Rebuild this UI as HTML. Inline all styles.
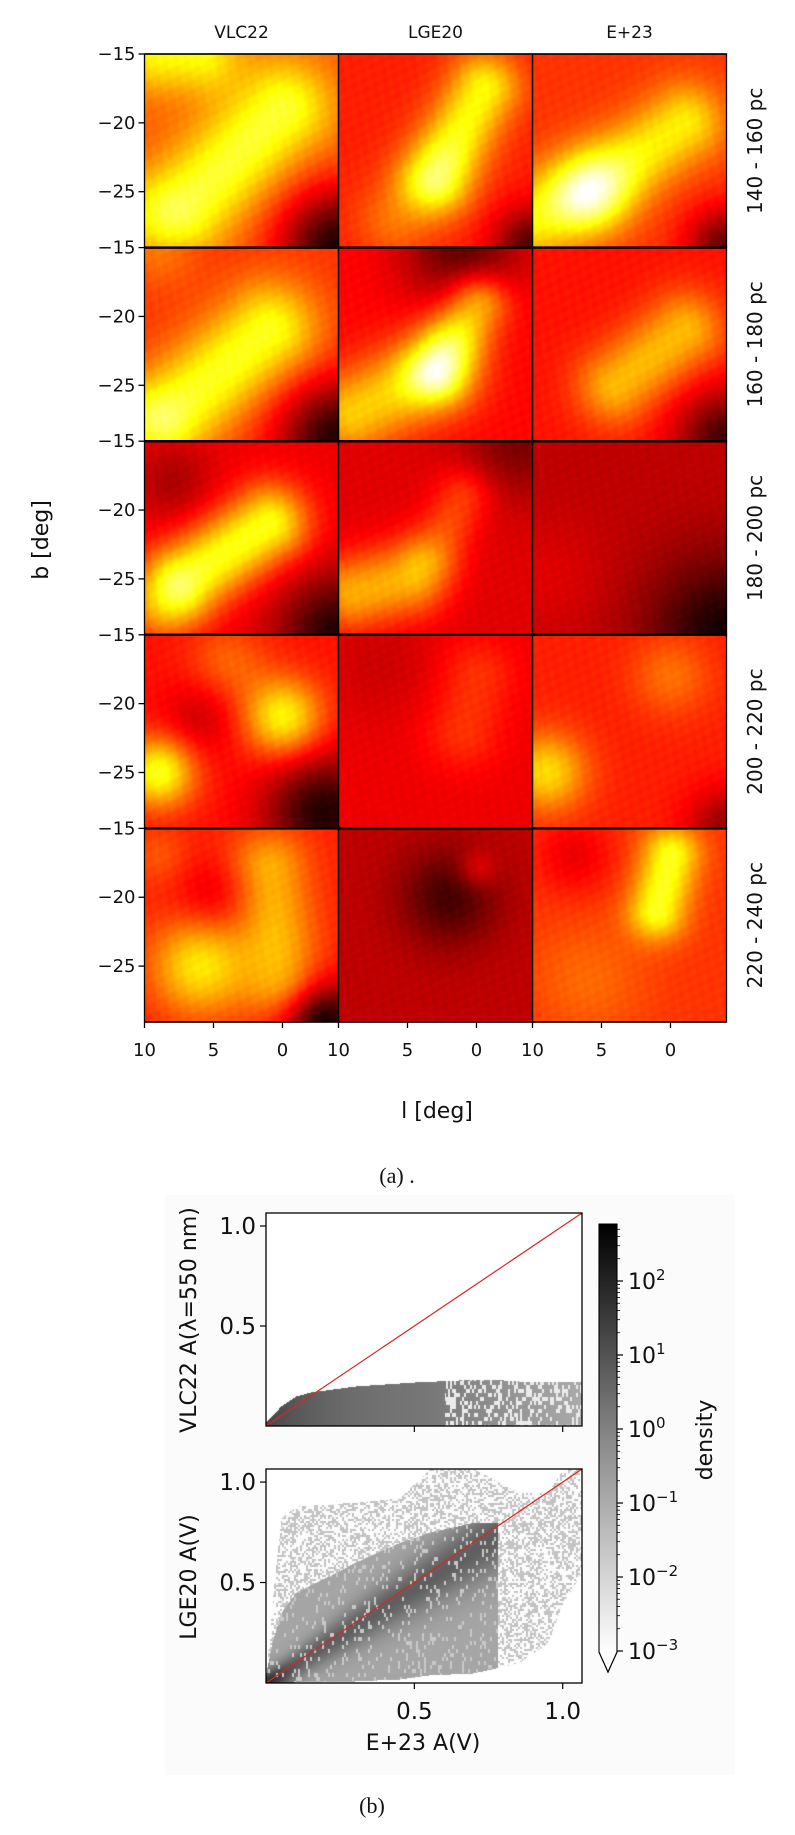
<!DOCTYPE html>
<html><head><meta charset="utf-8">
<style>
body{margin:0;background:#fff;width:795px;height:1835px;position:relative;overflow:hidden;font-family:"DejaVu Sans","Liberation Sans",sans-serif;}
.abs{position:absolute;}
canvas{position:absolute;display:block;}
</style></head><body>
<div class="abs" style="left:165px;top:1195px;width:570px;height:580px;background:#fbfbfb"></div>
<div id="root"></div>
<svg id="ov" class="abs" style="left:0;top:0" width="795" height="1835"></svg>
<script>
// ---------- Panel (a) data ----------
const columns=["VLC22","LGE20","E+23"];
const rowLabels=["140 - 160 pc","160 - 180 pc","180 - 200 pc","200 - 220 pc","220 - 240 pc"];
const yTicks=[-15,-20,-25];
const xTicks=[10,5,0];
const bases=[[0.5,0.42,0.45],[0.45,0.38,0.4],[0.35,0.33,0.28],[0.4,0.35,0.42],[0.42,0.28,0.45]];
// blobs: [l1,b1,l2,b2,sigma,amp]
const blobs=[
 [[[0,-19,7,-26,2.5,0.3],[9,-15,6,-15,2,0.25],[-4,-29,-4,-29,3,-0.45],[10,-27,10,-27,2,0.1]],
  [[-0.5,-17.5,3,-24,1.8,0.33],[3,-24,6,-27,2,0.12],[-4,-29,-4,-29,2,-0.3]],
  [[-1,-20,6,-25,2,0.28],[6,-25,10,-27,2.2,0.28],[-4,-29,-4,-29,2,-0.3]]],
 [[[1,-21,8,-27,2.5,0.33],[9,-15,9,-15,2,0.1],[-4,-29,-4,-29,3,-0.4],[10,-28,10,-28,2,0.12]],
  [[0,-19,3,-24,1.6,0.32],[3,-24,9,-27,2.2,0.3],[1,-15,1,-15,3,-0.25]],
  [[-1,-21,4,-25,2,0.25],[-4,-29,-4,-29,2.5,-0.3]]],
 [[[1,-21,7,-25,2,0.42],[9,-27,9,-27,2,0.2],[-4,-29,-4,-29,3,-0.3],[8,-18,8,-18,2,-0.1]],
  [[1,-19,3,-23,1.5,0.15],[5,-25,9,-26,2,0.3],[-3,-15,-3,-15,3,-0.15]],
  [[-4,-29,-4,-29,4,-0.25],[9,-25,9,-25,3,0.05]]],
 [[[0,-21,0,-21,2,0.35],[9,-25,9,-25,1.8,0.38],[4,-17,4,-17,2,0.12],[-3,-28,-3,-28,3,-0.35],[6,-21,6,-21,2,-0.1]],
  [[0,-18,1,-22,2,0.1],[7,-17,7,-17,3,-0.05]],
  [[9,-25,9,-25,2,0.28],[0,-18,0,-18,2,0.12],[-4,-29,-4,-29,2,-0.2]]],
 [[[1,-18,0,-26,2,0.22],[9,-17,9,-17,1.5,0.08],[6,-25,6,-25,2.5,0.3],[-3,-29,-3,-29,2,-0.4],[5,-20,5,-20,2,-0.1]],
  [[2,-20,2,-20,2.5,-0.18],[0,-18,0,-18,1,0.12]],
  [[0,-17,1,-21,1.5,0.33],[6,-26,6,-26,3,0.08],[7,-17,7,-17,2,-0.1]]]
];
const X0=144.5,Y0=54,PW=194,PH=193.6;
const L0=10,L1=-4.06,B0=-15,B1=-29.06;
function lx(l,c){return X0+c*PW+(L0-l)/(L0-L1)*PW;}
function by(b,r){return Y0+r*PH+(B0-b)/(B0-B1)*PH;}
function hot(t){t=Math.max(0,Math.min(1,t));return [Math.min(1,t/0.375)*255,Math.max(0,Math.min(1,(t-0.375)/0.375))*255,Math.max(0,Math.min(1,(t-0.75)/0.25))*255];}
function segd(px,py,s){const dx=s[2]-s[0],dy=s[3]-s[1];const L=dx*dx+dy*dy;let u=L?((px-s[0])*dx+(py-s[1])*dy)/L:0;u=Math.max(0,Math.min(1,u));const qx=s[0]+u*dx-px,qy=s[1]+u*dy-py;return qx*qx+qy*qy;}
const root=document.getElementById('root');
for(let r=0;r<5;r++)for(let c=0;c<3;c++){
 const cv=document.createElement('canvas');
 
 
 const w=97,h=97;cv.width=w;cv.height=h;
 cv.style.left=(X0+c*PW)+'px';cv.style.top=(Y0+r*PH)+'px';cv.style.width=PW+'px';cv.style.height=PH+'px';
 const ctx=cv.getContext('2d');const im=ctx.createImageData(w,h);
 for(let j=0;j<h;j++)for(let i=0;i<w;i++){
  const l=L0-(i+0.5)/w*(L0-L1),b=B0-(j+0.5)/h*(B0-B1);
  let v=bases[r][c];
  for(const s of blobs[r][c]){v+=s[5]*Math.exp(-segd(l,b,s)/(2*s[4]*s[4]));}
  v+=0.012*Math.sin(i*0.9+j*0.5+r)*Math.cos(j*0.7-i*0.3+c);
  const col=hot(v);const k=(j*w+i)*4;im.data[k]=col[0];im.data[k+1]=col[1];im.data[k+2]=col[2];im.data[k+3]=255;}
 ctx.putImageData(im,0,0);root.appendChild(cv);
}
// ---------- Panel (b) data ----------
const scatTicks=[0.5,1.0];
const topEnvX=[0,0.05,0.1,0.15,0.2,0.3,0.5,0.65,0.8,0.9,1.065];
const topEnvY=[0.02,0.1,0.15,0.17,0.18,0.2,0.22,0.23,0.23,0.22,0.22];
const botEnvX=[0,0.02,0.05,0.1,0.3,0.45,0.55,0.7,0.85,0.95,1.0,1.065];
const botUpY=[0.05,0.4,0.82,0.88,0.9,0.92,1.065,1.065,0.95,0.95,1.065,1.065];
const botLoY=[0,0,0,0.005,0.01,0.02,0.04,0.05,0.1,0.2,0.4,0.55];
const coreUpY=[0.05,0.2,0.35,0.45,0.6,0.7,0.75,0.8,0.8,0.8,0.8,0.8];
const cbTicks=[-3,-2,-1,0,1,2];
const SX0=266,SX1=582,DM=1.065;
function sx(v){return SX0+v/DM*(SX1-SX0);}
function interp(xs,ys,x){for(let i=1;i<xs.length;i++){if(x<=xs[i]){const u=(x-xs[i-1])/(xs[i]-xs[i-1]);return ys[i-1]+u*(ys[i]-ys[i-1]);}}return ys[ys.length-1];}
function hash(i,j){let n=i*374761393+j*668265263;n=(n^(n>>>13))*1274126177;return ((n^(n>>>16))>>>0)/4294967296;}
const scat=[{top:1213,bot:1426,name:'scatter-vlc22-vs-e23'},{top:1469,bot:1683,name:'scatter-lge20-vs-e23'}];
scat.forEach((p,pi)=>{
 const cv=document.createElement('canvas');
 
 
 const w=SX1-SX0,h=p.bot-p.top;cv.width=w;cv.height=h;
 cv.style.left=SX0+'px';cv.style.top=p.top+'px';
 const ctx=cv.getContext('2d');const im=ctx.createImageData(w,h);
 for(let j=0;j<h;j++)for(let i=0;i<w;i++){
  const x=i/w*DM,y=(h-j)/h*DM;let g=255;
  if(pi===0){const up=interp(topEnvX,topEnvY,x);if(y<=up&&y<=x*2.2+0.02){const d=Math.exp(-x*4);g=125-55*d+Math.max(0,x-0.55)*90;if(x>0.6&&hash(i>>1,j>>2)<0.35)g=235;}}
  else{const up=interp(botEnvX,botUpY,x),lo=interp(botEnvX,botLoY,x),cu=interp(botEnvX,coreUpY,x);
   if(y<=up&&y>=lo){
    const s=0.04+0.12*x;const dd=(y-x*0.95);
    let v=0.5*Math.exp(-dd*dd/(2*s*s))+0.35*Math.exp(-(x*x+y*y)/0.008);
    if(y<=cu&&x<0.78){g=165-140*Math.min(1,v);if(hash(i>>1,j>>2)<0.12)g=200;}
    else{g=hash(i>>1,j>>1)<0.45?195:252;}
   }}
  const k=(j*w+i)*4;im.data[k]=g;im.data[k+1]=g;im.data[k+2]=g;im.data[k+3]=255;}
 ctx.putImageData(im,0,0);root.appendChild(cv);
});
// colorbar
(function(){const cv=document.createElement('canvas');


cv.width=18;cv.height=428;cv.style.left='599px';cv.style.top='1224px';
const ctx=cv.getContext('2d');const g=ctx.createLinearGradient(0,0,0,428);g.addColorStop(0,'#000');g.addColorStop(0.5,'#888');g.addColorStop(1,'#fff');ctx.fillStyle=g;ctx.fillRect(0,0,18,428);root.appendChild(cv);})();
// ---------- SVG overlay ----------
const ov=document.getElementById('ov');const NS='http://www.w3.org/2000/svg';
function el(tag,at,txt){const e=document.createElementNS(NS,tag);for(const k in at)e.setAttribute(k,at[k]);if(txt!==undefined)e.textContent=txt;ov.appendChild(e);return e;}
for(let c=0;c<3;c++){const e=el('text',{x:X0+c*PW+PW/2,y:38,'text-anchor':'middle','font-size':17,fill:'#111'},columns[c]);
 
 }
for(let r=0;r<5;r++){
 const cy=Y0+r*PH+PH/2;
 const e=el('text',{x:0,y:0,transform:'translate(762,'+cy+') rotate(-90)','text-anchor':'middle','font-size':20,fill:'#111'},rowLabels[r]);
 
 
 yTicks.forEach(t=>{const y=by(t,r);el('line',{x1:X0-6,x2:X0,y1:y,y2:y,stroke:'#000','stroke-width':1.3});
  const tt=el('text',{x:X0-9,y:y+6,'text-anchor':'end','font-size':18,fill:'#111'},'\u2212'+Math.abs(t));
  
  });
}
for(let c=0;c<3;c++)xTicks.forEach(t=>{const x=lx(t,c);el('line',{x1:x,x2:x,y1:1022,y2:1028,stroke:'#000','stroke-width':1.3});
 const tt=el('text',{x:x,y:1056,'text-anchor':'middle','font-size':18,fill:'#111'},String(t));
 
 });
for(let r=0;r<5;r++)for(let c=0;c<3;c++)el('rect',{x:X0+c*PW,y:Y0+r*PH,width:PW,height:PH,fill:'none',stroke:'#000','stroke-width':1.3});
for(let r=0;r<=5;r++)el('line',{x1:X0,x2:X0+3*PW,y1:Y0+r*PH,y2:Y0+r*PH,stroke:'#000','stroke-width':r===0||r===5?1.5:2.5});
let e1=el('text',{x:0,y:0,transform:'translate(48,540) rotate(-90)','text-anchor':'middle','font-size':22,fill:'#111'},'b [deg]');


e1=el('text',{x:437,y:1118,'text-anchor':'middle','font-size':22,fill:'#111'},'l [deg]');


e1=el('text',{x:397,y:1183,'text-anchor':'middle','font-size':22,fill:'#111','font-family':'Liberation Serif, serif'},'(a) .');


e1=el('text',{x:372,y:1813,'text-anchor':'middle','font-size':22,fill:'#111','font-family':'Liberation Serif, serif'},'(b)');


function syy(v,p){return p.bot-v/DM*(p.bot-p.top);}
scat.forEach((p,pi)=>{
 el('line',{x1:sx(0),y1:syy(0,p),x2:sx(DM),y2:syy(DM,p),stroke:'#d62728','stroke-width':1.2});
 el('rect',{x:SX0,y:p.top,width:SX1-SX0,height:p.bot-p.top,fill:'none',stroke:'#000','stroke-width':1.3});
 scatTicks.forEach(t=>{const y=syy(t,p);el('line',{x1:SX0-6,x2:SX0,y1:y,y2:y,stroke:'#000','stroke-width':1.2});
  const tt=el('text',{x:SX0-10,y:y+8,'text-anchor':'end','font-size':23,fill:'#111'},t.toFixed(1));
  
  
  const x=sx(t);el('line',{x1:x,x2:x,y1:p.bot,y2:p.bot+6,stroke:'#000','stroke-width':1.2});
  if(pi===1){const tx=el('text',{x:x,y:p.bot+36,'text-anchor':'middle','font-size':23,fill:'#111'},t.toFixed(1));
   
   }});
});
e1=el('text',{x:0,y:0,transform:'translate(196,1320) rotate(-90)','text-anchor':'middle','font-size':22,fill:'#111'},'VLC22 A(\u03bb=550 nm)');


e1=el('text',{x:0,y:0,transform:'translate(196,1577) rotate(-90)','text-anchor':'middle','font-size':22,fill:'#111'},'LGE20 A(V)');


e1=el('text',{x:423,y:1750,'text-anchor':'middle','font-size':22,fill:'#111'},'E+23 A(V)');


el('path',{d:'M599,1224 L617,1224 L617,1652 L608,1672 L599,1652 Z',fill:'none',stroke:'#000','stroke-width':1.1});
el('path',{d:'M599.5,1652 L616.5,1652 L608,1671 Z',fill:'#fff',stroke:'none'});
el('path',{d:'M599,1652 L608,1672 L617,1652',fill:'none',stroke:'#000','stroke-width':1.1});
function cby(lg){return 1651-(lg+3)*74;}
cbTicks.forEach(t=>{const y=cby(t);el('line',{x1:617,x2:623,y1:y,y2:y,stroke:'#000','stroke-width':1.2});
 for(let m=2;m<10;m++){const ym=cby(t+Math.log10(m));if(ym>1224)el('line',{x1:617,x2:620,y1:ym,y2:ym,stroke:'#000','stroke-width':0.8});}
 const tt=el('text',{x:628,y:y+8,'font-size':22,fill:'#111'});
 
 
 const a=document.createElementNS(NS,'tspan');a.textContent='10';tt.appendChild(a);
 const b=document.createElementNS(NS,'tspan');b.setAttribute('dy','-9');b.setAttribute('font-size','15');b.textContent=(t<0?'\u2212':'')+Math.abs(t);tt.appendChild(b);
});
e1=el('text',{x:0,y:0,transform:'translate(712,1440) rotate(-90)','text-anchor':'middle','font-size':22,fill:'#111'},'density');


</script>
</body></html>
